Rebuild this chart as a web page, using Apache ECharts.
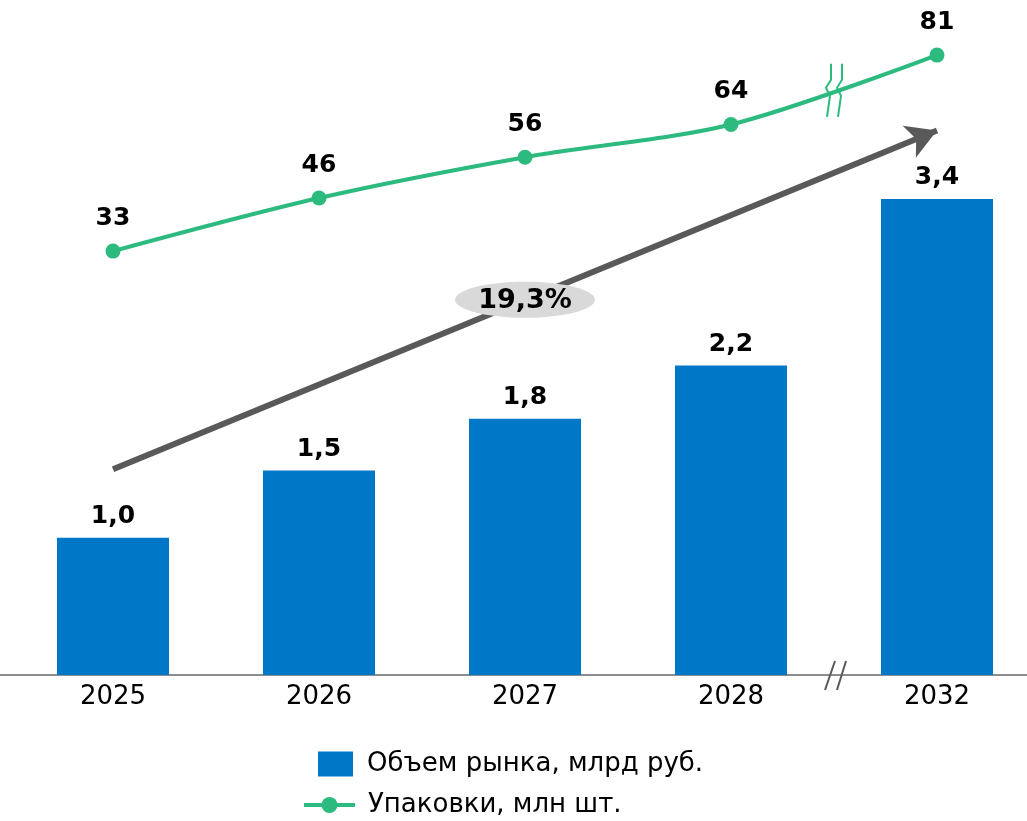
<!DOCTYPE html>
<html>
<head>
<meta charset="UTF-8">
<title>Объем рынка</title>
<script src="https://cdn.jsdelivr.net/npm/echarts@6/dist/echarts.min.js"></script>
<style>
  html, body { margin: 0; padding: 0; background: #ffffff; }
  #chart { width: 1027px; height: 821px; }
</style>
</head>
<body>
<div id="chart"></div>
<script>
// data
var years = ['2025', '2026', '2027', '2028', '2032'];
var marketValues = [0.98, 1.46, 1.83, 2.21, 3.40];   // млрд руб.
var packValues = [33, 46, 56, 64, 81];               // млн шт.
var barName = 'Объем рынка, млрд руб.';
var lineName = 'Упаковки, млн шт.';
var cagrText = '19,3%';
var arrowFrom = ['2025', 1.47];
var arrowTo = ['2032', 3.89];

var FONT = 'Verdana, "DejaVu Sans", sans-serif';
var BLUE = '#0078c8';
var GREEN = '#2dba7f';
var GREY = '#595959';

function comma(v, d) {
    return v.toFixed(d).replace('.', ',');
}

var chart = echarts.init(document.getElementById('chart'), null, {renderer: 'canvas'});

var option = {
    animation: false,
    textStyle: {fontFamily: FONT},
    grid: {left: 10, width: 1030, top: 40, bottom: 146, containLabel: false, outerBoundsMode: 'none'},
    xAxis: {
        type: 'category',
        data: years,
        axisLine: {show: true, lineStyle: {color: '#8c8c8c', width: 2}},
        axisTick: {show: false},
        axisLabel: {color: '#000', fontSize: 26, fontFamily: FONT, margin: 9}
    },
    yAxis: [
        {type: 'value', min: 0, max: 4.536, show: false, splitLine: {show: false}},
        {type: 'value', min: -70.8, max: 84.7, show: false, splitLine: {show: false}}
    ],
    legend: [
        {
            data: [barName],
            left: 318, top: 751, padding: 0,
            itemWidth: 35, itemHeight: 25,
            icon: 'rect',
            textStyle: {fontSize: 26, color: '#000', fontFamily: FONT, padding: [0, 0, 0, 9]}
        },
        {
            data: [lineName],
            left: 302, top: 792, padding: 0,
            itemWidth: 51, itemHeight: 20,
            lineStyle: {width: 4},
            textStyle: {fontSize: 26, color: '#000', fontFamily: FONT, padding: [0, 0, 0, 8]}
        }
    ],
    series: [
        {
            name: barName,
            type: 'bar',
            data: marketValues,
            barWidth: 112,
            itemStyle: {color: BLUE},
            label: {
                show: true, position: 'top', distance: 9,
                color: '#000', fontSize: 25, fontWeight: 'bold', fontFamily: FONT,
                formatter: function (p) { return comma(p.value, 1); }
            },
            markLine: {
                silent: true,
                symbol: ['none', 'arrow'],
                symbolSize: [26, 30],
                lineStyle: {color: GREY, width: 6, type: 'solid'},
                label: {show: false},
                data: [[{coord: arrowFrom}, {coord: arrowTo}]]
            }
        },
        {
            name: lineName,
            type: 'line',
            yAxisIndex: 1,
            data: packValues,
            smooth: 0.3,
            symbol: 'circle',
            symbolSize: 15,
            itemStyle: {color: GREEN},
            lineStyle: {color: GREEN, width: 4},
            label: {
                show: true, position: 'top', distance: 13,
                color: '#000', fontSize: 25, fontWeight: 'bold', fontFamily: FONT
            }
        }
    ]
};
chart.setOption(option);

// annotations placed from the data scales
var mid = chart.convertToPixel({seriesIndex: 0}, ['2027', (arrowFrom[1] + arrowTo[1]) / 2]);
var brkX = (chart.convertToPixel({xAxisIndex: 0}, '2028') + chart.convertToPixel({xAxisIndex: 0}, '2032')) / 2;
var brkLineY = chart.convertToPixel({seriesIndex: 1}, ['2028', (packValues[3] + packValues[4]) / 2])[1];
var baseY = chart.convertToPixel({seriesIndex: 0}, ['2028', 0])[1];

function zig(x) {
    return [[x, brkLineY - 26], [x, brkLineY - 10], [x - 5, brkLineY - 2], [x - 1, brkLineY + 6], [x - 4, brkLineY + 27]];
}

chart.setOption({
    graphic: [
        // axis line runs to the left edge of the picture
        {type: 'line', z: 100, shape: {x1: 0, y1: baseY, x2: 12, y2: baseY}, style: {stroke: '#8c8c8c', lineWidth: 2}},
        {type: 'ellipse', z: 100, shape: {cx: mid[0], cy: mid[1], rx: 70, ry: 18}, style: {fill: '#d9d9d9'}},
        {type: 'text', z: 101, x: mid[0], y: mid[1] + 1,
         style: {text: cagrText, align: 'center', verticalAlign: 'middle', fill: '#000', font: 'bold 27px ' + FONT}},
        {type: 'polyline', z: 100, shape: {points: zig(brkX - 3)}, style: {stroke: GREEN, lineWidth: 2, fill: null}},
        {type: 'polyline', z: 100, shape: {points: zig(brkX + 8)}, style: {stroke: GREEN, lineWidth: 2, fill: null}},
        {type: 'line', z: 100, shape: {x1: brkX - 9, y1: baseY + 15, x2: brkX + 1, y2: baseY - 14}, style: {stroke: GREY, lineWidth: 2}},
        {type: 'line', z: 100, shape: {x1: brkX + 3, y1: baseY + 15, x2: brkX + 12, y2: baseY - 14}, style: {stroke: GREY, lineWidth: 2}}
    ]
});
</script>
</body>
</html>
